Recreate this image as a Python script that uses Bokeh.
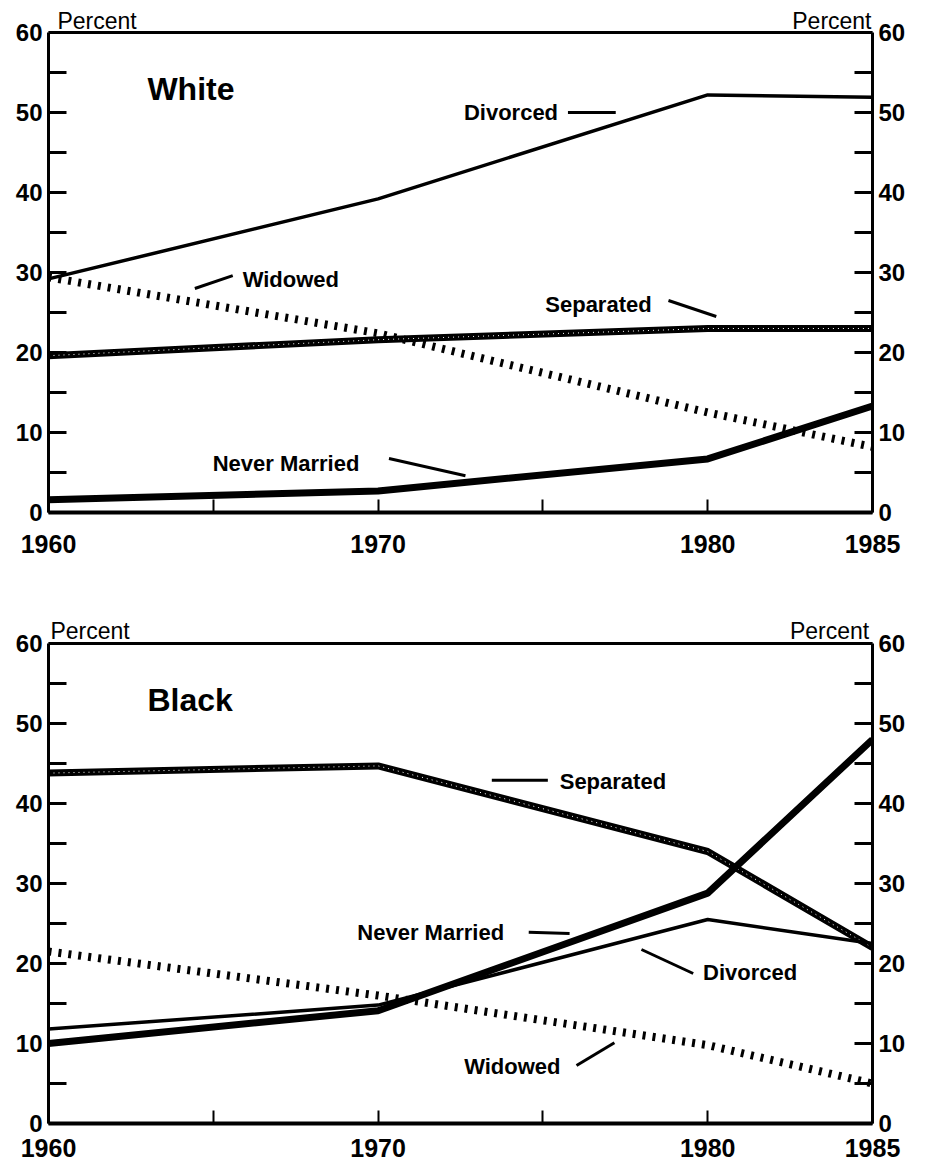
from bokeh.plotting import figure
from bokeh.models import Range1d, LinearAxis, FixedTicker, ColumnDataSource, Span
from bokeh.layouts import column
from bokeh.core.properties import value
from bokeh.embed import file_html
from bokeh.resources import INLINE

FONT = "Liberation Sans"

years = [1960, 1970, 1980, 1985]

white_divorced = [29.2, 39.2, 52.2, 51.9]
white_widowed = [29.4, 22.4, 12.5, 8.2]
white_separated = [19.6, 21.6, 23.0, 23.0]
white_never_married = [1.6, 2.7, 6.7, 13.3]

black_separated = [43.8, 44.7, 34.0, 22.0]
black_never_married = [10.0, 14.1, 28.8, 48.0]
black_divorced = [11.8, 14.8, 25.5, 22.5]
black_widowed = [21.5, 16.0, 9.8, 5.0]

y_ticks = [0, 10, 20, 30, 40, 50, 60]
y_minor = [5, 15, 25, 35, 45, 55]
x_ticks = [1960, 1970, 1980, 1985]
x_minor = [1965, 1975]

white_labels = dict(
    text=["Divorced", "Widowed", "Separated", "Never Married"],
    x=[1975.46, 1965.89, 1978.3, 1964.98],
    y=[50.0, 29.1, 26.0, 6.1],
    align=["right", "left", "right", "left"],
)
white_leaders = dict(
    x0=[1975.76, 1964.44, 1978.81, 1970.33],
    x1=[1977.21, 1965.59, 1980.26, 1972.65],
    y0=[50.0, 28.0, 26.5, 6.75],
    y1=[50.0, 29.6, 24.5, 4.6],
)
white_unit = dict(text=["Percent", "Percent"], x=[1960.27, 1984.97],
                  y=[61.5, 61.5], align=["left", "right"])

black_labels = dict(
    text=["Separated", "Never Married", "Divorced", "Widowed"],
    x=[1975.51, 1969.37, 1979.86, 1972.61],
    y=[42.7, 23.9, 18.9, 7.1],
    align=["left", "left", "left", "left"],
)
black_leaders = dict(
    x0=[1973.45, 1974.57, 1977.99, 1976.02],
    x1=[1975.15, 1975.81, 1979.56, 1977.17],
    y0=[42.9, 23.9, 21.75, 7.25],
    y1=[42.9, 23.75, 18.75, 10.1],
)
black_unit = dict(text=["Percent", "Percent"], x=[1960.06, 1984.9],
                  y=[61.6, 61.6], align=["left", "right"])


def style_axis(ax, label_size, standoff, tick_in, tick_w):
    ax.axis_line_color = "black"
    ax.axis_line_width = 3
    ax.major_tick_in = tick_in
    ax.major_tick_out = 0
    ax.minor_tick_in = tick_in
    ax.minor_tick_out = 0
    ax.major_tick_line_width = tick_w
    ax.minor_tick_line_width = tick_w
    ax.major_tick_line_color = "black"
    ax.minor_tick_line_color = "black"
    ax.major_label_text_font = FONT
    ax.major_label_text_font_style = "bold"
    ax.major_label_text_font_size = label_size
    ax.major_label_text_color = "black"
    ax.major_label_standoff = standoff


def panel(name, series, labels, leaders, unit, height, borders, x_standoff):
    top, bottom, left, right = borders
    p = figure(width=921, height=height, x_range=Range1d(1960, 1985),
               y_range=Range1d(0, 63.5), output_backend="svg",
               toolbar_location=None, min_border_top=top,
               min_border_bottom=bottom, min_border_left=left,
               min_border_right=right)
    p.xgrid.visible = False
    p.ygrid.visible = False
    p.outline_line_color = None
    p.background_fill_color = "white"
    p.border_fill_color = "white"

    xa = p.xaxis[0]
    xa.ticker = FixedTicker(ticks=x_ticks, minor_ticks=x_minor)
    style_axis(xa, "25px", x_standoff, 13, 2)
    xa.axis_line_width = 4

    ya = p.yaxis[0]
    ya.ticker = FixedTicker(ticks=y_ticks, minor_ticks=y_minor)
    ya.bounds = (0, 60)
    style_axis(ya, "24px", 6, 18, 3)

    ra = LinearAxis(ticker=FixedTicker(ticks=y_ticks, minor_ticks=y_minor),
                    bounds=(0, 60))
    style_axis(ra, "24px", 6, 18, 3)
    p.add_layout(ra, "right")

    p.add_layout(Span(location=60, dimension="width", line_color="black",
                      line_width=3))

    divorced, widowed, separated, never = series
    p.line(years, widowed, line_color="black", line_width=8, line_dash="3 7")
    p.line(years, separated, line_color="black", line_width=7)
    p.line(years, separated, line_color="white", line_width=1, line_dash="1 4")
    p.line(years, never, line_color="black", line_width=7)
    p.line(years, divorced, line_color="black", line_width=3.5)

    p.text(x=[1963.0], y=[53.0], text=[name], text_font=value(FONT),
           text_font_style="bold", text_font_size="32px",
           text_baseline="middle", text_align="left", text_color="black")

    p.text(x="x", y="y", text="text", text_align="align",
           source=ColumnDataSource(labels),
           text_font=value(FONT), text_font_style="bold",
           text_font_size="22px", text_baseline="middle", text_color="black")
    p.segment(x0="x0", y0="y0", x1="x1", y1="y1",
              source=ColumnDataSource(leaders), line_color="black",
              line_width=3)
    p.text(x="x", y="y", text="text", text_align="align",
           source=ColumnDataSource(unit),
           text_font=value(FONT), text_font_size="23px",
           text_baseline="middle", text_color="black")
    return p


p1 = panel("White", [white_divorced, white_widowed, white_separated,
                     white_never_married], white_labels, white_leaders,
           white_unit, 583, (4, 71, 48, 45), 22)
p2 = panel("Black", [black_divorced, black_widowed, black_separated,
                     black_never_married], black_labels, black_leaders,
           black_unit, 586, (32, 46, 45, 49), 15)

layout = column(p1, p2)
open("out.html", "w").write(file_html(layout, INLINE))
